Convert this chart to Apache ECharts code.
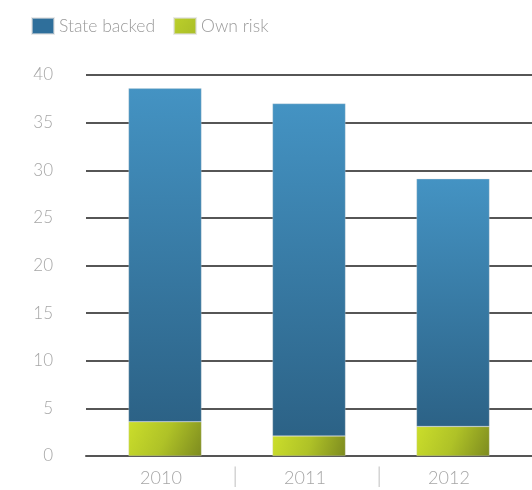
<!DOCTYPE html>
<html>
<head>
<meta charset="utf-8">
<script src="https://cdn.jsdelivr.net/npm/echarts@6/dist/echarts.min.js"></script>
<style>
  html, body { margin: 0; padding: 0; background: #fff; }
  #chart { width: 532px; height: 490px; }
</style>
</head>
<body>
<div id="chart"></div>
<script>
// Capital by year, split into state-backed and own-risk parts
const years = ['2010', '2011', '2012'];
const ownRisk = [3.6, 2.1, 3.1];
const stateBacked = [35.0, 34.9, 26.0];
const yTicks = { min: 0, max: 40, interval: 5 };
// Separator marks between year labels (on a finer half-band axis)
const separatorSlots = ['', '', '|', '', '|', '', ''];

const FONT = 'Lato, "Noto Sans", sans-serif';
const grey = '#a6a6a6';

const chart = echarts.init(document.getElementById('chart'), null, { renderer: 'canvas' });

chart.setOption({
  animation: false,
  backgroundColor: '#ffffff',
  legend: {
    left: 31,
    top: 17,
    padding: 0,
    itemWidth: 22,
    itemHeight: 16,
    itemGap: 18,
    icon: 'rect',
    textStyle: { color: '#9a9a9a', fontSize: 17.5, fontFamily: FONT, fontWeight: 300 },
    data: [
      { name: 'State backed', itemStyle: { color: '#2f6f9b' } },
      { name: 'Own risk', itemStyle: { color: new echarts.graphic.LinearGradient(0, 0, 1, 1, [
        { offset: 0, color: '#bcd02a' }, { offset: 1, color: '#a9bd28' }]) } }
    ]
  },
  grid: [
    { left: 86, right: 0, top: 75, bottom: 34 },
    { left: 93, right: 7, top: 75, bottom: 34 }
  ],
  xAxis: [
    {
      type: 'category', gridIndex: 0, position: 'bottom', data: years,
      axisLine: { show: true, lineStyle: { color: '#555', width: 2 } },
      axisTick: { show: false }, axisLabel: { show: false }, splitLine: { show: false }
    },
    {
      type: 'category', gridIndex: 1, position: 'bottom', data: years,
      axisLine: { show: false }, axisTick: { show: false },
      axisLabel: { color: grey, fontSize: 18, fontFamily: FONT, fontWeight: 300, margin: 13, padding: [0, 8, 0, 0] }
    },
    {
      type: 'category', gridIndex: 1, position: 'bottom', offset: 0, data: separatorSlots, boundaryGap: false,
      axisLine: { show: false }, axisTick: { show: false },
      axisLabel: { color: '#b5b5b5', fontSize: 22, fontFamily: FONT, fontWeight: 300, margin: 9, interval: 0, padding: [0, 4, 0, 0] }
    }
  ],
  yAxis: [
    {
      type: 'value', gridIndex: 0, min: yTicks.min, max: yTicks.max, interval: yTicks.interval,
      axisLine: { show: false }, axisTick: { show: false },
      axisLabel: { color: grey, fontSize: 17, fontFamily: FONT, fontWeight: 300, margin: 33 },
      splitLine: { show: true, lineStyle: { color: '#1e1e1e', width: 1.5 } }
    },
    {
      type: 'value', gridIndex: 1, min: yTicks.min, max: yTicks.max, interval: yTicks.interval,
      show: false
    }
  ],
  series: [
    {
      name: 'Own risk', type: 'bar', stack: 'total', xAxisIndex: 1, yAxisIndex: 1,
      data: ownRisk, barWidth: 73,
      itemStyle: {
        color: new echarts.graphic.LinearGradient(0, 0, 1, 1, [
          { offset: 0, color: '#cbde2b' },
          { offset: 0.5, color: '#afc227' },
          { offset: 1, color: '#7d8b1f' }
        ]),
        borderColor: 'rgba(220,220,220,0.6)', borderWidth: 0.5
      }
    },
    {
      name: 'State backed', type: 'bar', stack: 'total', xAxisIndex: 1, yAxisIndex: 1,
      data: stateBacked, barWidth: 73,
      itemStyle: {
        color: new echarts.graphic.LinearGradient(0, 0, 0, 1, [
          { offset: 0, color: '#4493c3' },
          { offset: 1, color: '#2c6286' }
        ]),
        borderColor: 'rgba(220,220,220,0.6)', borderWidth: 0.5
      }
    }
  ]
});
</script>
</body>
</html>
